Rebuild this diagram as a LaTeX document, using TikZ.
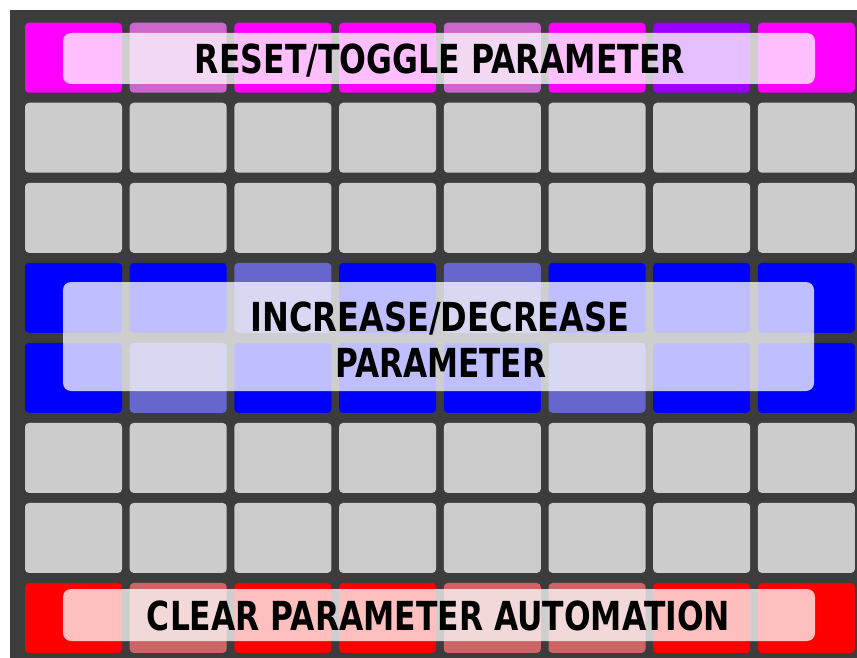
\documentclass[tikz,border=0pt]{standalone}
\usepackage{fontspec}
\setmainfont{DejaVu Sans}
\usepackage{graphicx}
\definecolor{bgdark}{HTML}{3C3C3C}
\definecolor{cG}{HTML}{CCCCCC}
\definecolor{cM}{HTML}{FF00FF}
\definecolor{cFM}{HTML}{CC66CC}
\definecolor{cP}{HTML}{9900FF}
\definecolor{cB}{HTML}{0000FF}
\definecolor{cFB}{HTML}{6666CC}
\definecolor{cR}{HTML}{FF0000}
\definecolor{cFR}{HTML}{CC6666}
\begin{document}
\begin{tikzpicture}[x=1pt,y=-1pt,
  pad/.style={draw=none, rounded corners=4pt, minimum width=97pt, minimum height=70pt, inner sep=0pt, outer sep=0pt, anchor=north west},
  veil/.style={fill=white, fill opacity=0.75, rounded corners=8pt},
  label/.style={inner sep=0pt, outer sep=0pt, anchor=base, text=black, font=\bfseries\fontsize{40}{48}\selectfont}]
\useasboundingbox (0,0) rectangle (857,658);
\fill[white] (0,0) rectangle (857,658);
\fill[bgdark] (10,10) rectangle (857,658);
% row 1
\foreach \col [count=\i from 0] in {cM,cFM,cM,cM,cFM,cM,cP,cM}
  \node[pad, fill=\col] (r1c\i) at ({25+104.7*\i},22.7) {};
% gray rows
\foreach \r in {2,3,6,7}
  \foreach \i in {0,...,7}
    \node[pad, fill=cG] (r\r c\i) at ({25+104.7*\i},{22.7+80.04*(\r-1)}) {};
% row 4
\foreach \col [count=\i from 0] in {cB,cB,cFB,cB,cFB,cB,cB,cB}
  \node[pad, fill=\col] (r4c\i) at ({25+104.7*\i},{22.7+80.04*3}) {};
% row 5
\foreach \col [count=\i from 0] in {cB,cFB,cB,cB,cB,cFB,cB,cB}
  \node[pad, fill=\col] (r5c\i) at ({25+104.7*\i},{22.7+80.04*4}) {};
% row 8
\foreach \col [count=\i from 0] in {cR,cFR,cR,cR,cFR,cFR,cR,cR}
  \node[pad, fill=\col] (r8c\i) at ({25+104.7*\i},{22.7+80.04*7}) {};
% veils
\fill[veil] (63,33) rectangle (815,84);
\fill[veil] (63,282) rectangle (814,391);
\fill[veil] (63,589) rectangle (815,641);
% labels
\node[label] (top) at (440,74) {\resizebox{490pt}{\height}{RESET/TOGGLE PARAMETER}};
\node[label] (mid1) at (440,331) {\resizebox{379pt}{\height}{INCREASE/DECREASE}};
\node[label] (mid2) at (440.5,377) {\resizebox{211pt}{\height}{PARAMETER}};
\node[label] (bot) at (438.5,630) {\resizebox{583pt}{\height}{CLEAR PARAMETER AUTOMATION}};
\end{tikzpicture}
\end{document}
